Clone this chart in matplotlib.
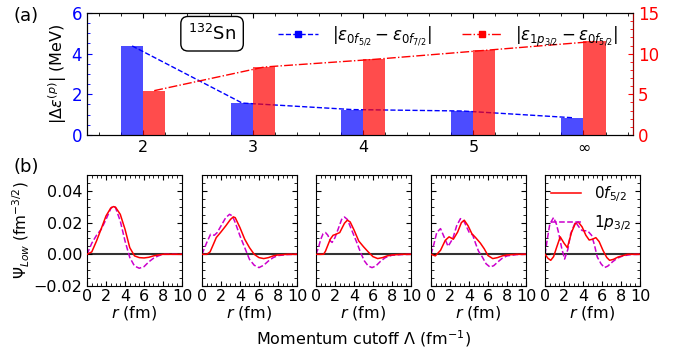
import numpy as np
import matplotlib.pyplot as plt
from matplotlib.lines import Line2D
from matplotlib.ticker import MultipleLocator

# (a) level spacings vs momentum cutoff
cutoffs = ['2', '3', '4', '5', r'$\infty$']
gap_f = [4.38, 1.57, 1.25, 1.18, 0.85]       # |e(0f5/2) - e(0f7/2)|, left axis
gap_pf = [5.45, 8.36, 9.3, 10.4, 11.5]       # |e(1p3/2) - e(0f5/2)|, right axis

# (b) radial wave functions for each cutoff
r_f = [
    [0, 0.5, 1.0, 1.5, 2.0, 2.5, 2.8, 3.0, 3.5, 4.0, 4.5, 5.0, 5.5, 6.0, 6.5, 7.0, 7.5, 8.0, 10],
    [0, 0.5, 0.85, 1.2, 1.5, 2.0, 2.5, 3.0, 3.3, 3.5, 4.0, 4.5, 5.0, 5.5, 6.0, 6.5, 7.0, 7.5, 8.0, 9.0, 10],
    [0, 0.8, 1.0, 1.5, 1.8, 2.0, 2.5, 3.0, 3.3, 3.6, 4.0, 4.5, 5.0, 5.5, 6.0, 6.5, 7.0, 7.5, 8.0, 9.0, 10],
    [0, 0.45, 1.0, 1.5, 1.9, 2.35, 2.8, 3.2, 3.5, 3.9, 4.3, 4.7, 5.2, 5.6, 6.0, 6.5, 7.0, 7.5, 8.0, 9.0, 10],
    [0, 0.3, 0.6, 0.9, 1.2, 1.6, 2.0, 2.35, 2.8, 3.2, 3.5, 3.9, 4.3, 4.65, 5.0, 5.35, 5.7, 6.1, 6.5, 6.8, 7.2, 7.7, 8.7, 10],
]
psi_f = [
    [0, 0.0015, 0.0084, 0.0162, 0.0242, 0.0292, 0.0301, 0.0297, 0.0252, 0.0158, 0.0042, -0.0010, -0.0021, -0.0023, -0.0019, -0.0010, -0.0004, 0, 0],
    [0, 0, 0.0015, 0.0063, 0.0105, 0.0141, 0.0179, 0.0220, 0.0236, 0.0231, 0.0168, 0.0095, 0.0042, 0, -0.0021, -0.0027, -0.0021, -0.0010, -0.0004, 0, 0],
    [0, 0, 0.0020, 0.0095, 0.0120, 0.0124, 0.0137, 0.0196, 0.0215, 0.0204, 0.0154, 0.0084, 0.0048, 0.0015, -0.0015, -0.0027, -0.0021, -0.0010, -0.0004, 0, 0],
    [0, -0.0010, 0.0025, 0.0088, 0.0110, 0.0095, 0.0140, 0.0200, 0.0215, 0.0180, 0.0130, 0.0105, 0.0070, 0.0035, -0.0008, -0.0027, -0.0021, -0.0010, -0.0004, 0, 0],
    [0, -0.0025, -0.0038, -0.0015, 0.0040, 0.0110, 0.0070, 0.0042, 0.0140, 0.0195, 0.0204, 0.0173, 0.0120, 0.0090, 0.0095, 0.0105, 0.0080, 0.0025, -0.0020, -0.0038, -0.0032, -0.0017, 0, 0],
]
r_p = [
    [0, 0.5, 1.0, 1.5, 2.0, 2.5, 2.75, 3.0, 3.5, 4.0, 4.5, 5.0, 5.5, 6.0, 6.5, 7.0, 7.5, 8.0, 10],
    [0, 0.5, 0.9, 1.3, 1.6, 2.0, 2.5, 2.9, 3.2, 3.5, 4.0, 4.5, 5.0, 5.5, 6.0, 6.5, 7.0, 7.5, 8.0, 9.0, 10],
    [0, 0.25, 0.5, 0.75, 1.0, 1.25, 1.5, 1.7, 2.0, 2.4, 2.7, 3.0, 3.3, 3.8, 4.3, 4.7, 5.1, 5.5, 5.9, 6.3, 6.8, 7.3, 8.0, 9.0, 10],
    [0, 0.3, 0.6, 1.0, 1.3, 1.8, 2.3, 2.7, 3.1, 3.5, 4.0, 4.4, 4.7, 5.0, 5.4, 5.8, 6.2, 6.6, 7.0, 7.5, 8.0, 9.0, 10],
    [0, 0.2, 0.5, 0.9, 1.2, 1.45, 1.75, 2.06, 2.4, 2.7, 3.2, 3.6, 3.9, 4.5, 4.9, 5.2, 5.5, 5.9, 6.25, 6.6, 7.1, 7.6, 8.2, 9.0, 10],
]
psi_p = [
    [0, 0.0070, 0.0120, 0.0158, 0.0220, 0.0288, 0.0305, 0.0294, 0.0210, 0.0084, -0.0020, -0.0074, -0.0088, -0.0078, -0.0048, -0.0025, -0.0010, 0, 0],
    [0, 0.0074, 0.0126, 0.0120, 0.0137, 0.0179, 0.0231, 0.0252, 0.0242, 0.0200, 0.0116, 0.0042, -0.0032, -0.0069, -0.0084, -0.0069, -0.0042, -0.0021, -0.0008, -0.0002, 0],
    [0, 0.0040, 0.0095, 0.0130, 0.0137, 0.0120, 0.0085, 0.0075, 0.0105, 0.0170, 0.0220, 0.0235, 0.0220, 0.0147, 0.0074, 0.0010, -0.0042, -0.0074, -0.0084, -0.0074, -0.0044, -0.0021, -0.0006, -0.0002, 0],
    [0, 0.0063, 0.0137, 0.0162, 0.0120, 0.0050, 0.0100, 0.0180, 0.0225, 0.0205, 0.0140, 0.0120, 0.0067, 0.0020, -0.0017, -0.0060, -0.0080, -0.0072, -0.0050, -0.0025, -0.0010, -0.0002, 0],
    [0, 0.0080, 0.0190, 0.0232, 0.0190, 0.0130, 0.0040, -0.0030, 0.0030, 0.0130, 0.0204, 0.0170, 0.0150, 0.0147, 0.0120, 0.0060, -0.0017, -0.0060, -0.0084, -0.0075, -0.0048, -0.0025, -0.0010, -0.0002, 0],
]

plt.rcParams['font.size'] = 11
plt.rcParams['mathtext.fontset'] = 'dejavusans'

fig = plt.figure(figsize=(6.88, 3.52), dpi=100)

# ---- panel (a) ----
ax = fig.add_axes([0.1265, 0.6165, 0.7936, 0.3466])
ax2 = ax.twinx()
x = np.arange(len(cutoffs))
w = 0.2
ax.plot(x - w / 2, gap_f, '--', color='blue', lw=1.0, zorder=1)
ax.bar(x - w / 2, gap_f, width=w, color='blue', alpha=0.7, edgecolor='none', zorder=2)
ax2.plot(x + w / 2, gap_pf, '-.', color='red', lw=1.0, zorder=1)
ax2.bar(x + w / 2, gap_pf, width=w, color='red', alpha=0.7, edgecolor='none', zorder=2)

ax.set_xlim(-0.51, 4.45)
ax.set_ylim(0, 6)
ax2.set_ylim(0, 15)
ax.set_xticks(x)
ax.set_xticklabels(cutoffs)
ax.xaxis.set_minor_locator(MultipleLocator(0.2))
ax.yaxis.set_major_locator(MultipleLocator(2))
ax.yaxis.set_minor_locator(MultipleLocator(0.5))
ax2.yaxis.set_major_locator(MultipleLocator(5))
ax2.yaxis.set_minor_locator(MultipleLocator(1))
ax.tick_params(which='both', direction='in', top=True, right=False)
ax.tick_params(axis='y', which='both', colors='blue', labelsize=12)
ax.tick_params(axis='x', labelsize=11.5)
ax2.tick_params(which='both', direction='in', colors='red', labelsize=12)
ax2.spines['right'].set_color('#a00000')
ax.set_ylabel(r'$|\Delta\varepsilon^{(p)}|$ (MeV)', fontsize=11.5, labelpad=2)

ax.text(0.229, 0.83, r'$^{132}$Sn', transform=ax.transAxes, fontsize=13,
        ha='center', va='center',
        bbox=dict(boxstyle='round,pad=0.4', fc='white', ec='black'))

handles = [Line2D([], [], ls='--', color='blue', marker='s', markersize=4, lw=1),
           Line2D([], [], ls='-.', color='red', marker='s', markersize=4, lw=1)]
labels = [r'$|\varepsilon_{0f_{5/2}}-\varepsilon_{0f_{7/2}}|$',
          r'$|\varepsilon_{1p_{3/2}}-\varepsilon_{0f_{5/2}}|$']
ax2.legend(handles, labels, ncol=2, frameon=False, fontsize=12,
           loc='upper right', bbox_to_anchor=(1.0, 1.03),
           columnspacing=1.8, handlelength=2.4)

fig.text(0.02, 0.955, '(a)', fontsize=13, va='center')
fig.text(0.02, 0.525, '(b)', fontsize=13, va='center')

# ---- panel (b) ----
lefts = [0.1265, 0.2936, 0.4593, 0.6265, 0.7922]
for i, left in enumerate(lefts):
    a = fig.add_axes([left, 0.1875, 0.138, 0.3153])
    a.axhline(0, color='#333333', lw=1.5, zorder=1)
    a.plot(r_f[i], psi_f[i], '-', color='red', lw=1.1, label=r'$0f_{5/2}$', zorder=3)
    a.plot(r_p[i], psi_p[i], '--', color='#cc00cc', lw=1.1, label=r'$1p_{3/2}$', zorder=2)
    a.set_xlim(0, 10)
    a.set_ylim(-0.02, 0.05)
    a.set_xticks([0, 2, 4, 6, 8, 10])
    a.xaxis.set_minor_locator(MultipleLocator(0.5))
    a.yaxis.set_major_locator(MultipleLocator(0.02))
    a.yaxis.set_minor_locator(MultipleLocator(0.005))
    a.tick_params(which='both', direction='in', top=True, right=True, labelsize=11.5)
    a.tick_params(axis='x', pad=2)
    a.set_xlabel(r'$r$ (fm)', fontsize=11.5, labelpad=0)
    if i == 0:
        a.set_ylabel(r'$\Psi_{Low}$ (fm$^{-3/2}$)', fontsize=11, labelpad=1)
    else:
        a.set_yticklabels([])
    if i == len(lefts) - 1:
        a.legend(loc='upper right', frameon=False, fontsize=11,
                 handlelength=2.0, borderaxespad=0.2, labelspacing=0.6)

fig.text(0.528, 0.02, r'Momentum cutoff $\Lambda$ (fm$^{-1}$)', fontsize=11.5, ha='center')

fig.savefig('out.png', dpi=100)
